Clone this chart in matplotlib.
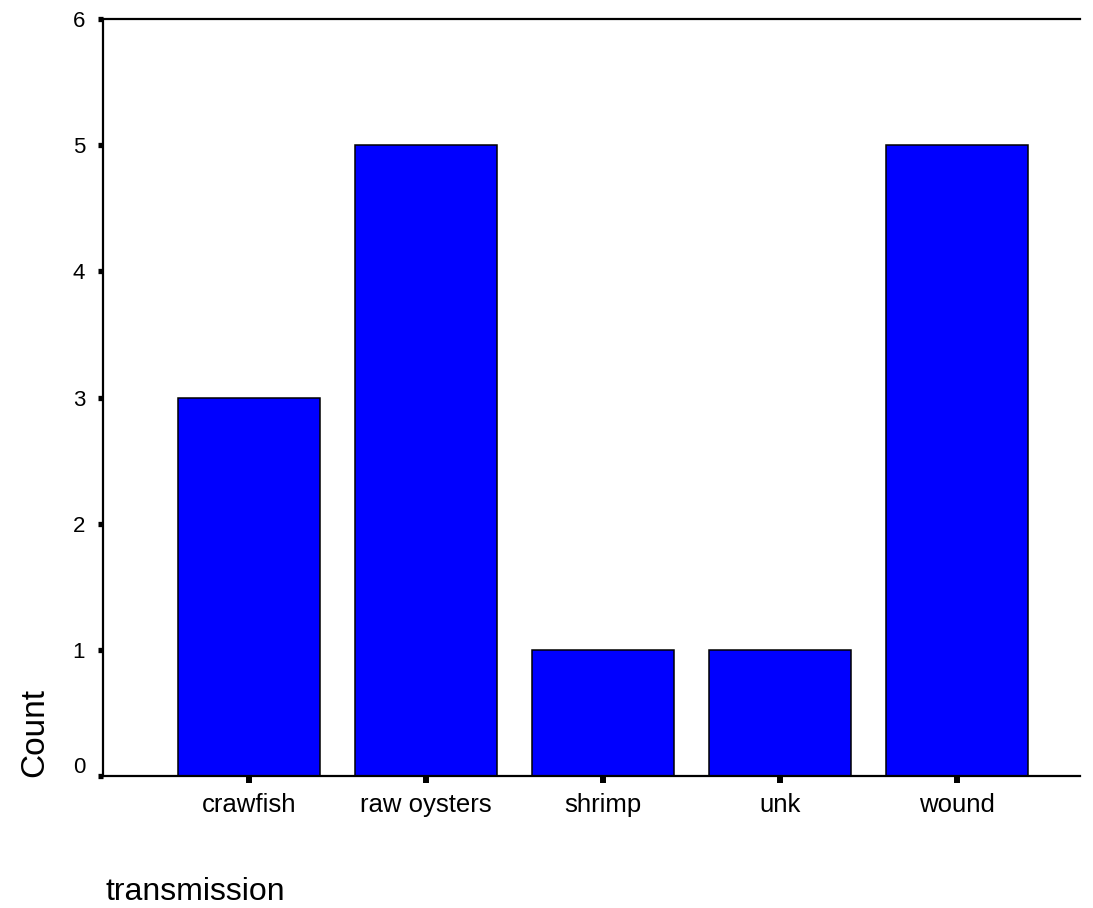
import matplotlib.pyplot as plt
from matplotlib.transforms import ScaledTranslation

categories = ["crawfish", "raw oysters", "shrimp", "unk", "wound"]
counts = [3, 5, 1, 1, 5]
yticks = [0, 1, 2, 3, 4, 5, 6]

plt.rcParams['font.family'] = ['Liberation Sans', 'DejaVu Sans']

fig = plt.figure(figsize=(10.93, 9.08), dpi=100)
ax = fig.add_axes([103/1093, 1 - 776/908, (1080 - 103)/1093, (776 - 19)/908])

x = range(len(categories))
ax.bar(x, counts, width=0.8, color="#0000FF", edgecolor="black", linewidth=1.1)

ax.set_xlim(-0.825, 4.695)
ax.set_ylim(0, 6)
ax.set_yticks(yticks)
ax.set_xticks(list(x))
ax.set_xticklabels(categories)

ax.spines['right'].set_visible(False)
for s in ['left', 'top', 'bottom']:
    ax.spines[s].set_linewidth(1.6)
ax.tick_params(axis='x', direction='out', length=5, width=4.3, pad=7, labelsize=18.5, color='black')
ax.tick_params(axis='y', direction='out', length=3.8, width=3.8, pad=9, labelsize=16, color='black')

# the "0" label sits a little above its tick
lab0 = ax.yaxis.get_major_ticks()[0].label1
lab0.set_transform(lab0.get_transform() + ScaledTranslation(0, 0.11, fig.dpi_scale_trans))

fig.text(43/1093, 1 - 777/908, "Count", rotation=90, rotation_mode='anchor',
         ha='left', va='baseline', fontsize=24)
fig.text(105/1093, 8/908, "transmission", ha='left', va='baseline', fontsize=23)

fig.savefig("out.png", dpi=100)
